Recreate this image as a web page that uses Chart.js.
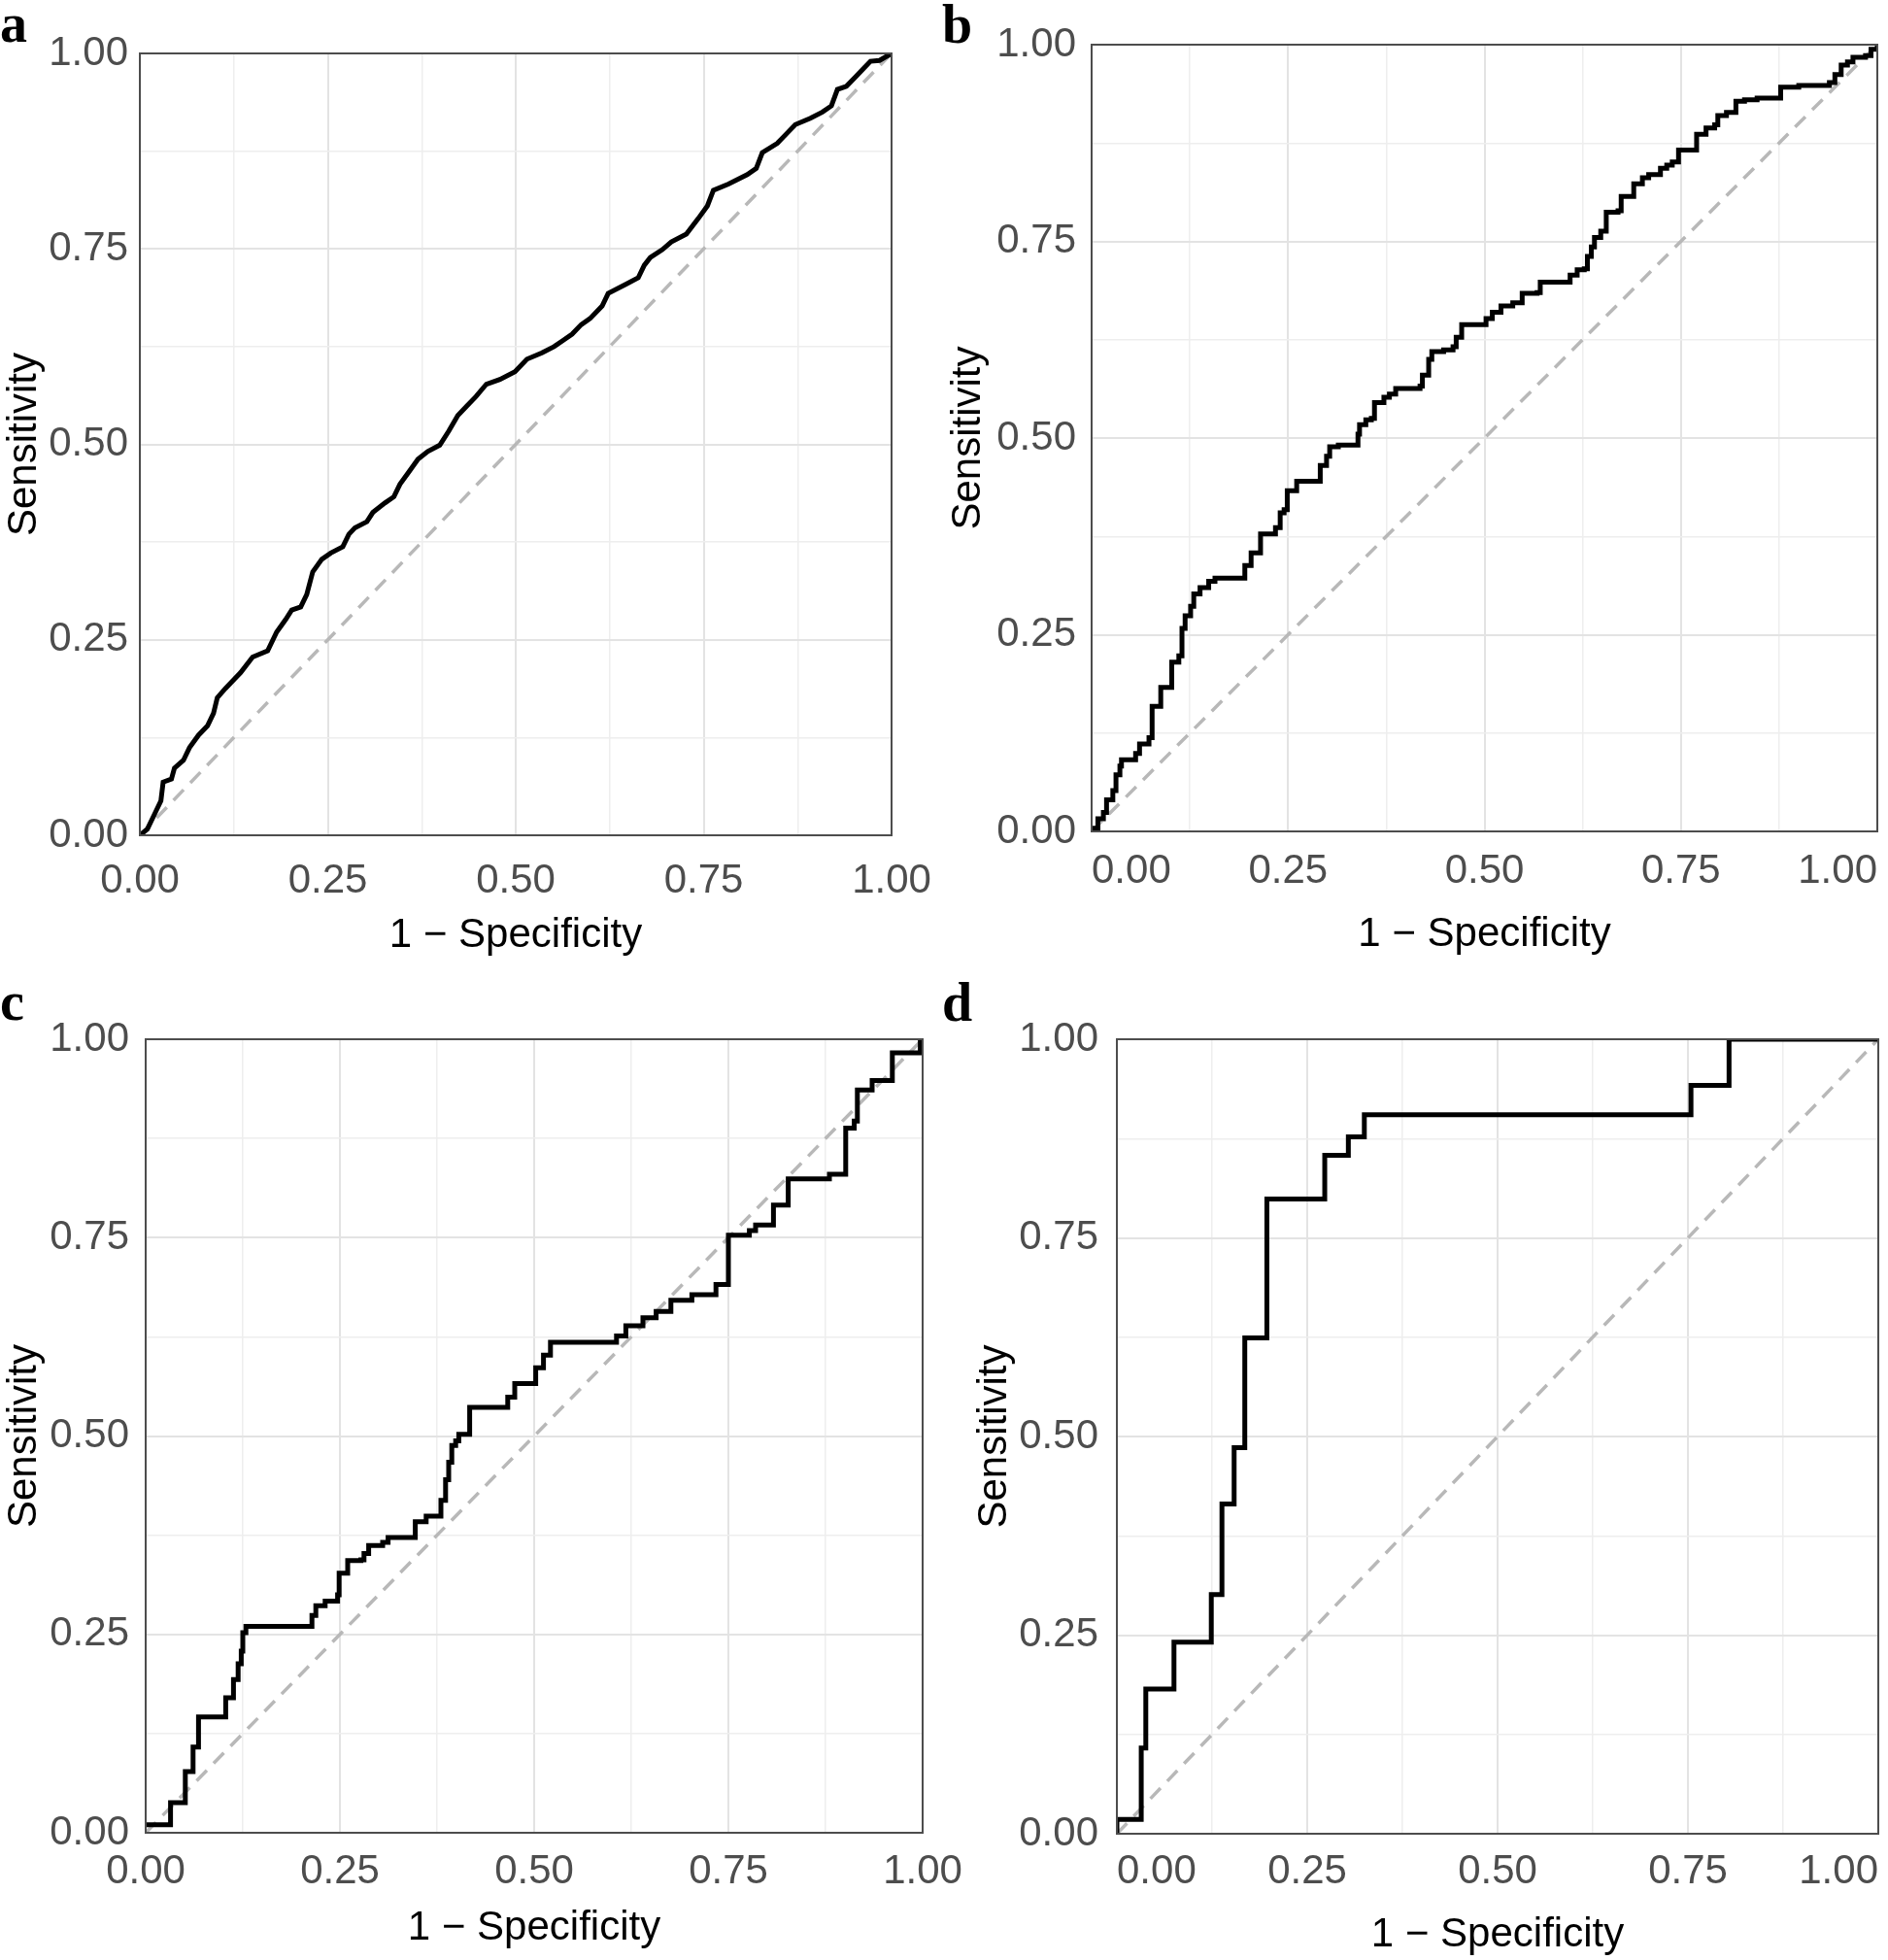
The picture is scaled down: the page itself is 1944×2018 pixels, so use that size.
<!DOCTYPE html>
<html>
<head>
<meta charset="utf-8">
<title>ROC curves a-d</title>
<script src="https://cdn.jsdelivr.net/npm/chart.js@4.4.1/dist/chart.umd.min.js"></script>
<style>
  html, body { margin: 0; padding: 0; background: #fff; }
  #fig { position: relative; width: 1944px; height: 2018px; overflow: hidden; background: #fff; }
  #fig canvas { position: absolute; }
  .tag { position: absolute; font: bold 56px "Liberation Serif", "Times New Roman", serif; line-height: 56px; color: #000; }
</style>
</head>
<body>
<div id="fig">
  <canvas id="rocA" width="988" height="985" style="left:0px;top:5px"></canvas>
  <canvas id="rocB" width="1031" height="992" style="left:972px;top:-4px"></canvas>
  <canvas id="rocC" width="1020" height="997" style="left:0px;top:1020px"></canvas>
  <canvas id="rocD" width="1032" height="998" style="left:972px;top:1020px"></canvas>
  <div class="tag" style="left:0px;top:-4px">a</div>
  <div class="tag" style="left:970px;top:-3px">b</div>
  <div class="tag" style="left:0px;top:1003px">c</div>
  <div class="tag" style="left:970px;top:1004px">d</div>
</div>

<script>
// axis ticks (grid every 0.125, labels on the quarters)
const tickValues = [0, 0.25, 0.5, 0.75, 1];
const tickLabels = ['0.00', '0.25', '0.50', '0.75', '1.00'];

// chance line
const chanceX = [0, 1];
const chanceY = [0, 1];

// panel a
const rocA_fpr = [0, 0.010, 0.020, 0.028, 0.031, 0.042, 0.046, 0.058, 0.066, 0.078, 0.090, 0.098, 0.103, 0.114, 0.126, 0.134,
  0.150, 0.170, 0.182, 0.194, 0.202, 0.214, 0.222, 0.230, 0.242, 0.254, 0.270, 0.278, 0.286, 0.302, 0.310, 0.326,
  0.338, 0.346, 0.358, 0.370, 0.383, 0.399, 0.411, 0.423, 0.435, 0.447, 0.461, 0.479, 0.499, 0.515, 0.535, 0.551,
  0.563, 0.575, 0.587, 0.599, 0.615, 0.623, 0.647, 0.663, 0.671, 0.679, 0.695, 0.707, 0.727, 0.743, 0.755, 0.763,
  0.783, 0.808, 0.820, 0.828, 0.848, 0.856, 0.872, 0.892, 0.908, 0.920, 0.928, 0.940, 0.952, 0.964, 0.972, 0.984, 1.0];
const rocA_tpr = [0, 0.008, 0.028, 0.044, 0.068, 0.072, 0.086, 0.096, 0.112, 0.128, 0.140, 0.156, 0.176, 0.188, 0.200, 0.208,
  0.228, 0.236, 0.260, 0.276, 0.288, 0.292, 0.308, 0.337, 0.353, 0.361, 0.369, 0.385, 0.393, 0.401, 0.413, 0.425,
  0.433, 0.449, 0.465, 0.481, 0.491, 0.499, 0.517, 0.537, 0.549, 0.561, 0.577, 0.583, 0.593, 0.609, 0.617, 0.625,
  0.633, 0.641, 0.653, 0.661, 0.677, 0.693, 0.705, 0.713, 0.729, 0.739, 0.749, 0.759, 0.769, 0.789, 0.805, 0.825,
  0.833, 0.845, 0.853, 0.873, 0.885, 0.893, 0.909, 0.917, 0.925, 0.933, 0.954, 0.958, 0.970, 0.982, 0.990, 0.991, 1.0];

// panel b
const rocB_fpr = [0, 0.004, 0.008, 0.015, 0.019, 0.027, 0.031, 0.036, 0.038, 0.056, 0.061, 0.073, 0.077, 0.088, 0.102, 0.111,
  0.115, 0.119, 0.126, 0.130, 0.138, 0.149, 0.157, 0.195, 0.203, 0.215, 0.234, 0.240, 0.245, 0.249, 0.261, 0.291,
  0.299, 0.303, 0.314, 0.339, 0.341, 0.349, 0.356, 0.360, 0.372, 0.379, 0.387, 0.418, 0.421, 0.429, 0.433, 0.448,
  0.460, 0.464, 0.471, 0.502, 0.510, 0.521, 0.536, 0.548, 0.567, 0.571, 0.609, 0.618, 0.627, 0.631, 0.636, 0.640,
  0.648, 0.655, 0.670, 0.674, 0.690, 0.701, 0.709, 0.724, 0.732, 0.739, 0.747, 0.770, 0.782, 0.793, 0.797, 0.808,
  0.820, 0.831, 0.847, 0.877, 0.900, 0.939, 0.946, 0.954, 0.962, 0.969, 0.985, 0.992, 1.0];
const rocB_tpr = [0, 0.004, 0.016, 0.024, 0.040, 0.052, 0.072, 0.083, 0.091, 0.099, 0.111, 0.119, 0.159, 0.183, 0.215, 0.223,
  0.258, 0.274, 0.286, 0.302, 0.310, 0.318, 0.322, 0.338, 0.354, 0.378, 0.386, 0.405, 0.409, 0.433, 0.445, 0.465,
  0.477, 0.489, 0.491, 0.505, 0.517, 0.523, 0.525, 0.545, 0.552, 0.556, 0.563, 0.566, 0.580, 0.600, 0.610, 0.612,
  0.616, 0.628, 0.644, 0.652, 0.660, 0.668, 0.672, 0.684, 0.685, 0.698, 0.707, 0.714, 0.715, 0.731, 0.743, 0.755,
  0.763, 0.787, 0.789, 0.807, 0.823, 0.831, 0.835, 0.843, 0.847, 0.851, 0.866, 0.886, 0.894, 0.898, 0.910, 0.914,
  0.928, 0.930, 0.932, 0.946, 0.948, 0.952, 0.962, 0.974, 0.978, 0.984, 0.986, 0.994, 1.0];

// panel c
const rocC_fpr = [0, 0.032, 0.051, 0.061, 0.068, 0.103, 0.113, 0.119, 0.123, 0.125, 0.129, 0.214, 0.219, 0.231, 0.247, 0.249,
  0.260, 0.277, 0.281, 0.287, 0.305, 0.312, 0.347, 0.361, 0.380, 0.386, 0.390, 0.394, 0.399, 0.403, 0.417, 0.466,
  0.475, 0.502, 0.512, 0.521, 0.606, 0.618, 0.640, 0.657, 0.676, 0.703, 0.734, 0.750, 0.777, 0.785, 0.808, 0.827,
  0.880, 0.901, 0.912, 0.916, 0.935, 0.961, 0.997, 1.0];
const rocC_tpr = [0.010, 0.038, 0.077, 0.108, 0.146, 0.170, 0.193, 0.213, 0.229, 0.252, 0.260, 0.274, 0.286, 0.292, 0.300, 0.327,
  0.343, 0.344, 0.352, 0.362, 0.366, 0.372, 0.392, 0.399, 0.419, 0.445, 0.467, 0.488, 0.494, 0.502, 0.536, 0.549,
  0.566, 0.586, 0.602, 0.618, 0.626, 0.639, 0.649, 0.657, 0.671, 0.678, 0.691, 0.753, 0.759, 0.766, 0.791, 0.824,
  0.830, 0.888, 0.897, 0.936, 0.948, 0.983, 0.998, 1.0];

// panel d
const rocD_fpr = [0, 0, 0.032, 0.038, 0.075, 0.124, 0.138, 0.154, 0.168, 0.197, 0.273, 0.304, 0.325, 0.754, 0.804, 1.0];
const rocD_tpr = [0, 0.018, 0.108, 0.182, 0.241, 0.301, 0.415, 0.486, 0.624, 0.799, 0.854, 0.877, 0.905, 0.942, 1.0, 1.0];


Chart.defaults.font.family = '"Liberation Sans", Arial, Helvetica, sans-serif';

function tickText(v) {
    const i = tickValues.indexOf(v);
    return i < 0 ? '' : tickLabels[i];
}

function isMajor(ctx) {
    return ctx.tick && tickValues.indexOf(ctx.tick.value) >= 0;
}

// dark panel border on top of everything
const frame = {
    id: 'frame',
    afterDatasetsDraw(chart) {
        const {ctx, chartArea: a} = chart;
        ctx.save();
        ctx.strokeStyle = '#4d4d4d';
        ctx.lineWidth = 2;
        ctx.strokeRect(a.left, a.top, a.width, a.height);
        ctx.restore();
    }
};

function axis(o) {
    return {
        type: 'linear',
        min: 0,
        max: 1,
        border: { display: false },
        grid: {
            drawTicks: false,
            color: (ctx) => isMajor(ctx) ? '#e3e3e3' : '#eeeeee',
            lineWidth: (ctx) => isMajor(ctx) ? 2 : 1.5
        },
        ticks: {
            stepSize: 0.125,
            autoSkip: false,
            maxRotation: 0,
            color: '#4d4d4d',
            font: { size: 42 },
            padding: o.pad,
            align: o.align || 'center',
            callback: tickText
        },
        title: {
            display: true,
            text: o.title,
            color: '#000',
            font: { size: 42 },
            padding: o.titlePad
        },
        afterFit: o.fit
    };
}

function rocChart(id, fpr, tpr, stepped, p) {
    const curve = fpr.map((x, i) => ({x: x, y: tpr[i]}));
    const chance = chanceX.map((x, i) => ({x: x, y: chanceY[i]}));
    return new Chart(document.getElementById(id), {
        type: 'line',
        data: {
            datasets: [
                {
                    label: 'ROC',
                    data: curve,
                    borderColor: '#000000',
                    borderWidth: 5,
                    pointRadius: 0,
                    tension: 0,
                    stepped: stepped
                },
                {
                    label: 'Chance',
                    data: chance,
                    borderColor: '#b8b8b8',
                    borderWidth: 3.5,
                    borderDash: [15, 10],
                    pointRadius: 0
                }
            ]
        },
        options: {
            responsive: false,
            animation: false,
            layout: { padding: { top: 50, right: 70, bottom: 0, left: 0 } },
            plugins: {
                legend: { display: false },
                tooltip: { enabled: false }
            },
            scales: {
                x: axis({
                    title: '1 \u2212 Specificity',
                    pad: p.xPad,
                    align: p.xAlign,
                    titlePad: { top: 0, bottom: p.xTitlePad },
                    fit: (s) => { s.height = p.bottomH; }
                }),
                y: axis({
                    title: 'Sensitivity',
                    pad: p.yPad,
                    titlePad: { top: p.yTitlePad, bottom: 0 },
                    fit: (s) => { s.width = p.leftW; }
                })
            }
        },
        plugins: [frame]
    });
}

rocChart('rocA', rocA_fpr, rocA_tpr, false,
    { leftW: 144, bottomH: 130, xPad: 22, yPad: 12, xTitlePad: 1, yTitlePad: 0 });
rocChart('rocB', rocB_fpr, rocB_tpr, true,
    { leftW: 152, bottomH: 132, xPad: 16, yPad: 16, xTitlePad: 0, yTitlePad: 0, xAlign: 'inner' });
rocChart('rocC', rocC_fpr, rocC_tpr, true,
    { leftW: 150, bottomH: 130, xPad: 15, yPad: 17, xTitlePad: 6, yTitlePad: 0 });
rocChart('rocD', rocD_fpr, rocD_tpr, true,
    { leftW: 178, bottomH: 130, xPad: 14, yPad: 19, xTitlePad: 0, yTitlePad: 27, xAlign: 'inner' });
</script>
</body>
</html>
